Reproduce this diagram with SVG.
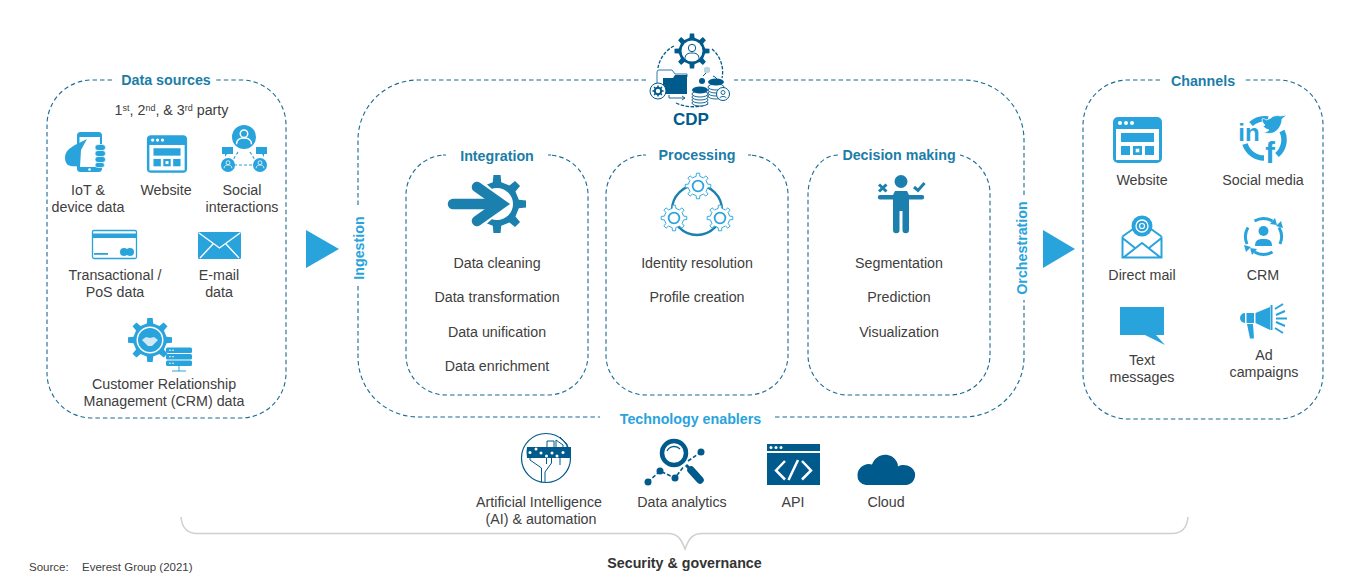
<svg xmlns="http://www.w3.org/2000/svg" width="1357" height="580" viewBox="0 0 1357 580">
<style>
text{font-family:"Liberation Sans",Arial,sans-serif;font-size:14.25px;fill:#404040;text-anchor:middle}
.h{font-weight:700;fill:#1b7da8}
.hl{font-weight:700;fill:#29a3dc}
.dash{fill:none;stroke:#1b6a94;stroke-width:1.1;stroke-dasharray:4.5 3}
.l{fill:#29a3dc}
.d{fill:#005a8c}
.m{fill:#1b80ad}
.w{fill:#fff}
.ls{fill:none;stroke:#29a3dc}
.ds{fill:none;stroke:#005a8c}
.ms{fill:none;stroke:#1b80ad}
.ws{fill:none;stroke:#fff}
</style>
<defs>
<path id="gear" stroke-linejoin="round" d="M9.33-1.81L12.41-1.52L12.41 1.52L9.33 1.81L7.88 5.32L9.85 7.7L7.7 9.85L5.32 7.88L1.81 9.33L1.52 12.41L-1.52 12.41L-1.81 9.33L-5.32 7.88L-7.7 9.85L-9.85 7.7L-7.88 5.32L-9.33 1.81L-12.41 1.52L-12.41-1.52L-9.33-1.81L-7.88-5.32L-9.85-7.7L-7.7-9.85L-5.32-7.88L-1.81-9.33L-1.52-12.41L1.52-12.41L1.81-9.33L5.32-7.88L7.7-9.85L9.85-7.7L7.88-5.32Z"/>
<g id="web">
<rect x="-24.500" y="-23" width="49" height="46" rx="5" class="l"/>
<rect x="-21.500" y="-11" width="43" height="31" class="w"/>
<circle cx="-17.500" cy="-17" r="2" class="w"/><circle cx="-11.500" cy="-17" r="2" class="w"/><circle cx="-5.500" cy="-17" r="2" class="w"/>
<rect x="-16.500" y="-7" width="33" height="9" class="l"/>
<rect x="-16.500" y="6" width="9" height="9" class="l"/><rect x="-4.500" y="6" width="9" height="9" class="l"/><rect x="7.500" y="6" width="9" height="9" class="l"/>
<rect x="-1.800" y="8.700" width="3.600" height="3.600" class="w"/>
</g>
<g id="person"><circle cy="-3.500" r="3" class="ws" stroke-width="1.200"/><path d="M-6 5c0-4 3-5 6-5s6 1 6 5" class="ws" stroke-width="1.200"/></g>
<g id="outlinegear"><use href="#gear" fill="#fff" stroke="#29a3dc" stroke-width=".9"/><circle r="5.200" fill="none" stroke="#29a3dc" stroke-width="1.700"/></g>
</defs>

<g id="connectors">
<path class="dash" d="M112 80H92a45 45 0 0 0-45 45V373a45 45 0 0 0 45 45H241a45 45 0 0 0 45-45V125a45 45 0 0 0-45-45H216"/>
<path class="dash" d="M646 80H418a60 60 0 0 0-60 60V207M358 286V357a60 60 0 0 0 60 60H600M775 417H964a60 60 0 0 0 60-60V300M1024 195V140a60 60 0 0 0-60-60H734"/>
<path class="dash" d="M443 155H446a40 40 0 0 0-40 40V355a40 40 0 0 0 40 40H548a40 40 0 0 0 40-40V195a40 40 0 0 0-40-40H551"/>
<path class="dash" d="M643 155H646a40 40 0 0 0-40 40V355a40 40 0 0 0 40 40H748a40 40 0 0 0 40-40V195a40 40 0 0 0-40-40H751"/>
<path class="dash" d="M838 155a30 40 0 0 0-30 40V355a40 40 0 0 0 40 40H950a40 40 0 0 0 40-40V195a40 40 0 0 0-30-40"/>
<path class="dash" d="M1160 80H1128a45 45 0 0 0-45 45V374a45 45 0 0 0 45 45H1278a45 45 0 0 0 45-45V125a45 45 0 0 0-45-45H1245"/>
<path d="M306 230L339 249L306 268Z" class="l"/>
<path d="M1043 230L1075 249L1043 268Z" class="l"/>
<path d="M181 517C182 528 187 533.500 197 533.500H668C677 533.500 681 538 685 549C689 538 693 533.500 702 533.500H1172C1182 533.500 1187 528 1188 517" fill="none" stroke="#cfcfcf" stroke-width="1.500"/>
</g>

<g id="data-sources">
<text x="166" y="85" class="h">Data sources</text>
<text x="171.500" y="115">1<tspan font-size="9" dy="-4">st</tspan><tspan dy="4">, 2</tspan><tspan font-size="9" dy="-4">nd</tspan><tspan dy="4">, &amp; 3</tspan><tspan font-size="9" dy="-4">rd</tspan><tspan dy="4"> party</tspan></text>
</g>
<g id="iot">
<rect x="77" y="132" width="25" height="40" rx="3.500" class="l"/>
<rect x="79.500" y="137" width="20.500" height="30" class="w"/>
<circle cx="89.500" cy="169.500" r="1.300" class="w"/>
<path d="M87 139C84 141 73 145 68 150C64 154 64 162 68 165C71 167 77 166 80 167L81 150Z" class="l"/>
<g fill="#29a3dc" stroke="#fff" stroke-width=".7"><rect x="95" y="144.500" width="10.500" height="6" rx="3"/><rect x="95" y="150.500" width="10.500" height="6" rx="3"/><rect x="95" y="156.500" width="10.500" height="6" rx="3"/><rect x="95" y="162.500" width="9.500" height="5" rx="2.500"/></g>
<text x="88" y="195">IoT &amp;</text><text x="88" y="212">device data</text>
</g>
<g id="website-source">
<use href="#web" transform="translate(167 154) scale(.82)"/>
<text x="166" y="195">Website</text>
</g>
<g id="social">
<circle cx="244" cy="137" r="12" class="l"/>
<use href="#person" transform="translate(244 138) scale(1.250)"/>
<path d="M222 147h11v7h-6l-2 3v-3h-3zM256 147h11v7h-3v3l-2-3h-6z" class="l"/>
<path d="M238 152L231 163M250 152L257 163M234 165H254" class="ls" stroke-width="1.200" stroke-dasharray="3 2"/>
<circle cx="228" cy="165" r="7" class="l"/><circle cx="260" cy="165" r="7" class="l"/>
<use href="#person" transform="translate(228 165) scale(.65)"/><use href="#person" transform="translate(260 165) scale(.65)"/>
<text x="242" y="195">Social</text><text x="242" y="212">interactions</text>
</g>
<g id="transactional">
<rect x="92.500" y="230.500" width="44" height="28" rx="1.500" fill="#fff" stroke="#29a3dc" stroke-width="1.300"/>
<rect x="92.500" y="233.500" width="44" height="4.500" class="l"/>
<rect x="94" y="253" width="14" height="1.800" class="l"/>
<circle cx="124" cy="252" r="4" class="l"/><circle cx="130" cy="252" r="4" class="l"/>
<text x="115" y="280">Transactional /</text><text x="115" y="297">PoS data</text>
</g>
<g id="email">
<rect x="198" y="232" width="43" height="27" rx="1.500" class="l"/>
<path d="M199 233L219.500 248L240 233M200 258L213 244M239 258L226 244" class="ws" stroke-width="1.400"/>
<text x="219" y="280">E-mail</text><text x="219" y="297">data</text>
</g>
<g id="crm-data">
<use href="#gear" transform="translate(150 340) scale(1.770)" class="l"/>
<circle cx="150" cy="340" r="13.500" fill="#fff"/><circle cx="150" cy="340" r="12" class="l"/>
<path d="M142 340l4-3 4 1 4-1 4 3-6 6h-4z" fill="#cfe9f7"/>
<rect x="166" y="347.500" width="26" height="5.500" rx="1.500" class="l"/><rect x="166" y="354" width="26" height="5.500" rx="1.500" class="l"/><rect x="166" y="360.500" width="26" height="5.500" rx="1.500" class="l"/>
<g class="w"><circle cx="170" cy="350.200" r=".8"/><circle cx="173" cy="350.200" r=".8"/><circle cx="170" cy="356.700" r=".8"/><circle cx="173" cy="356.700" r=".8"/><circle cx="170" cy="363.200" r=".8"/><circle cx="173" cy="363.200" r=".8"/></g>
<path d="M179 366V371M172 371H186" class="ls"/>
<text x="164" y="389">Customer Relationship</text><text x="164" y="406">Management (CRM) data</text>
</g>

<g id="cdp">
<use href="#gear" transform="translate(692 51) scale(1.410)" class="d"/>
<circle cx="692" cy="51" r="10.500" fill="#fff"/>
<circle cx="692" cy="48" r="3.700" class="ds"/><path d="M685 59c0-5 3-6 7-6s7 1 7 6" class="ds"/>
<path d="M674 46A30 30 0 0 0 658 68M712 49A30 30 0 0 1 722 78M676 103Q692 110 708 104" class="ds" stroke-width="1.300" stroke-dasharray="3.500 1.500"/>
<path d="M657 92V72a2 2 0 0 1 2-2h13l3 4h12v3" class="ds" stroke-width=".8"/>
<path d="M663 78h10l2-3h12v19h-24z" class="d"/>
<circle cx="658" cy="91" r="8" fill="#fff" stroke="#005a8c"/><use href="#gear" transform="translate(658 91) scale(.45)" class="d"/><circle cx="658" cy="91" r="2.200" class="w"/>
<path d="M669 95V98H685M682 96l3 2-3 2" class="ds" stroke-width=".9"/>
<circle cx="707" cy="70" r="3.200" fill="#bfd2df"/><circle cx="702" cy="81" r="3" class="d"/><path d="M703 76L706 73M713 76c3 1 4 3 5 5" class="ds"/>
<g fill="#fff" stroke="#005a8c" stroke-width=".9">
<ellipse cx="700" cy="103" rx="8" ry="3"/><ellipse cx="700" cy="100" rx="8" ry="3"/><ellipse cx="700" cy="97" rx="8" ry="3"/><ellipse cx="700" cy="94" rx="8" ry="3"/>
<ellipse cx="716" cy="96" rx="8" ry="3"/><ellipse cx="716" cy="93" rx="8" ry="3"/><ellipse cx="716" cy="90" rx="8" ry="3"/><ellipse cx="716" cy="87" rx="8" ry="3"/>
</g>
<ellipse cx="700" cy="90" rx="8" ry="3.500" class="d"/><ellipse cx="716" cy="82" rx="8" ry="3.500" class="d"/>
<circle cx="723" cy="94" r="6.500" fill="#fff" stroke="#005a8c"/><circle cx="723" cy="92.500" r="2" class="ds" stroke-width=".9"/><path d="M720 98c0-2 6-2 6 0" class="ds" stroke-width=".9"/>
<text x="691" y="125" class="h" style="font-size:17px;fill:#005a8c">CDP</text>
</g>

<g id="ingestion"><text class="hl" transform="translate(364 248) rotate(-90)">Ingestion</text></g>
<g id="orchestration"><text class="hl" transform="translate(1027 248) rotate(-90)">Orchestration</text></g>

<g id="integration">
<text x="497" y="161" class="h">Integration</text>
<use href="#gear" transform="translate(497 204) scale(2.340)" class="m"/>
<circle cx="497" cy="204" r="16" fill="#fff"/>
<path d="M440 165H465L509 204L465 243H440Z" fill="#fff"/>
<path d="M453 204H496" stroke="#1b80ad" stroke-width="10.500" stroke-linecap="round"/>
<path d="M477 187L501 204L477 221" fill="none" stroke="#1b80ad" stroke-width="10.500" stroke-linecap="round" stroke-linejoin="miter"/>
<text x="497" y="268">Data cleaning</text><text x="497" y="302">Data transformation</text><text x="497" y="337">Data unification</text><text x="497" y="371">Data enrichment</text>
</g>
<g id="processing">
<text x="697" y="160" class="h">Processing</text>
<circle cx="697" cy="210" r="25" class="ms" stroke-width="2.300"/>
<use href="#outlinegear" transform="translate(698 186) scale(1.030)"/>
<use href="#outlinegear" transform="translate(674 218) scale(1.030)"/>
<use href="#outlinegear" transform="translate(720 218) scale(1.030)"/>
<text x="697" y="268">Identity resolution</text><text x="697" y="302">Profile creation</text>
</g>
<g id="decision">
<text x="899" y="160" class="h">Decision making</text>
<circle cx="901" cy="181.500" r="6.500" class="m"/>
<path d="M880 195H893L895 191H907L909 195H922a2.200 2.200 0 0 1 0 4.400H909V230a3 3 0 0 1-6.500 0V211H899.500V230a3 3 0 0 1-6.500 0V199.400H880a2.200 2.200 0 0 1 0-4.400Z" class="m"/>
<path d="M879 184.500L886.500 191.500M886.500 184.500L879 191.500" class="ms" stroke-width="3"/>
<path d="M914 187L918 190.500L924.500 183" class="ms" stroke-width="3"/>
<text x="899" y="268">Segmentation</text><text x="899" y="302">Prediction</text><text x="899" y="337">Visualization</text>
</g>

<g id="channels"><text x="1203" y="86" class="h">Channels</text></g>
<g id="website-channel">
<use href="#web" transform="translate(1137.500 140)"/>
<text x="1142" y="185">Website</text>
</g>
<g id="social-media">
<path d="M1251 124A20 20 0 0 1 1268 119M1282 131A20 20 0 0 1 1277 155M1245 144A20 20 0 0 0 1264 158" class="ls" stroke-width="5.500"/>
<path d="M1262 119c2-1 3 0 4 1l5-2c1-2 6-3 9-2l7-1-5 4c0 6-4 12-9 14-5 1-9 0-10 0 2-1 4-1 6-3-4-1-6-4-6-4 1 0 1 0 2-1-2-1-3-4-3-6z" class="l" stroke="#fff" stroke-width=".8"/>
<text x="1249" y="141" style="font-size:24px;font-weight:700;fill:#29a3dc;stroke:#fff;stroke-width:2.500px;paint-order:stroke">in</text>
<text x="1270" y="163" style="font-size:29px;font-weight:700;fill:#29a3dc;stroke:#fff;stroke-width:2.500px;paint-order:stroke">f</text>
<text x="1263" y="185">Social media</text>
</g>
<g id="direct-mail">
<path d="M1122.500 236.500L1133 229M1161.500 236.500L1151 229" class="ls" stroke-width="2"/>
<path d="M1122.500 236.500V257.500H1161.500V236.500M1122.500 238L1135 248M1161.500 238L1149 248M1123.500 257.500L1142 243L1160.500 257.500" class="ls" stroke-width="2"/>
<circle cx="1142" cy="226" r="10.500" class="l"/><circle cx="1142" cy="226" r="6" class="ws" stroke-width="1.300"/><circle cx="1142" cy="226" r="2.500" class="ws" stroke-width="1.200"/>
<text x="1142" y="280">Direct mail</text>
</g>
<g id="crm-channel">
<circle cx="1263.500" cy="231" r="5" class="l"/>
<path d="M1255 246c0-6 3-7 8.500-7s8.500 1 8.500 7z" class="l"/>
<path d="M1254.500 221A18 18 0 0 1 1272.500 221M1279 227.500A18 18 0 0 1 1280 244M1272.500 252A18 18 0 0 1 1254.500 252M1247 244A18 18 0 0 1 1248 227.500" class="ls" stroke-width="3"/>
<path d="M1275 218L1277 225L1270 224ZM1283 228L1276 226L1281 221ZM1252 255L1250 248L1257 249ZM1244 245L1251 247L1246 252Z" class="l"/>
<text x="1263" y="280">CRM</text>
</g>
<g id="text-messages">
<path d="M1120 307H1164V335H1156L1165 345L1145 335H1120Z" class="l"/>
<text x="1142" y="365">Text</text><text x="1142" y="382">messages</text>
</g>
<g id="ad-campaigns">
<path d="M1245 313V323A5 5 0 0 1 1245 313ZM1246.500 313H1254V323H1246.500ZM1255.500 313L1270 307V330L1255.500 323Z" class="l"/>
<path d="M1247 324L1250 338.500H1254L1253 324Z" class="l"/>
<path d="M1271.500 305V330" class="ls" stroke-width="2"/>
<path d="M1275 309L1283 304M1276 315L1285 311M1276 318.500H1287M1276 322L1285 326M1275 328L1283 333" class="ls" stroke-width="2"/>
<text x="1264" y="360">Ad</text><text x="1264" y="377">campaigns</text>
</g>

<g id="technology-enablers"><text x="690.500" y="424" class="hl">Technology enablers</text></g>
<g id="ai">
<circle cx="546" cy="458" r="24.500" fill="#fff" stroke="#005a8c" stroke-width="1.200"/>
<path d="M527 447H571V458H527Q526 452 527 447Z" class="d"/>
<path d="M530 452V460L541.500 468V482M551.500 455V463L545 472V482M546.500 455V464M560 455V465M547 447V441H554V452M556 447V440L563 445V452M560 437L567 444V447" fill="none" stroke="#005a8c" stroke-width="1"/>
<g fill="#fff"><circle cx="530" cy="452.500" r="1.500"/><circle cx="536" cy="449" r="1.500"/><circle cx="541" cy="453" r="1.500"/><circle cx="546.500" cy="456" r="1.500"/><circle cx="552" cy="453" r="1.500"/><circle cx="557" cy="456" r="1.500"/><circle cx="563" cy="452.500" r="1.500"/></g>
<text x="539" y="507">Artificial Intelligence</text><text x="541" y="524">(AI) &amp; automation</text>
</g>
<g id="data-analytics">
<path d="M648 482L660 471L675 478L684 466M688 461L701 452" class="ds" stroke-width="1.600" stroke-dasharray="4 2"/>
<circle cx="674" cy="453" r="12" fill="#fff" stroke="#005a8c" stroke-width="4.500"/>
<path d="M667 451A8 8 0 0 1 680 449" class="ds" stroke-width="1.300"/>
<path d="M686 465L689 468" stroke="#005a8c" stroke-width="3"/>
<path d="M691 470L700 480" stroke="#005a8c" stroke-width="7.500" stroke-linecap="round"/>
<circle cx="648" cy="482" r="3.500" class="d"/><circle cx="660" cy="471" r="3.500" class="d"/><circle cx="675" cy="478" r="3.500" class="d"/><circle cx="701" cy="452" r="3.500" class="d"/>
<text x="682" y="507">Data analytics</text>
</g>
<g id="api">
<rect x="767" y="444" width="53" height="41" class="d"/>
<rect x="767" y="451" width="53" height="2" class="w"/>
<circle cx="771" cy="447.500" r="1.500" class="w"/><circle cx="776" cy="447.500" r="1.500" class="w"/><circle cx="781" cy="447.500" r="1.500" class="w"/>
<path d="M785 461L776 470.500L785 479.500M802 461L811 470.500L802 479.500M798 460L788.500 480" class="ws" stroke-width="2.500"/>
<text x="793" y="507">API</text>
</g>
<g id="cloud">
<path d="M866 485A9 9 0 0 1 857.500 475C857.500 468 865 462 872 464.500C875 456 884 452 892 456.500C896 459 898 463 898 466.500C904 463 913 466 915 473C916 480 911 485 906 485Z" class="d"/>
<text x="886" y="507">Cloud</text>
</g>

<g id="security"><text x="684.500" y="568" style="font-weight:700;fill:#333">Security &amp; governance</text></g>
<g id="source"><text x="29" y="571" style="font-size:11.500px;text-anchor:start">Source:</text><text x="82" y="571" style="font-size:11.500px;text-anchor:start">Everest Group (2021)</text></g>
</svg>
